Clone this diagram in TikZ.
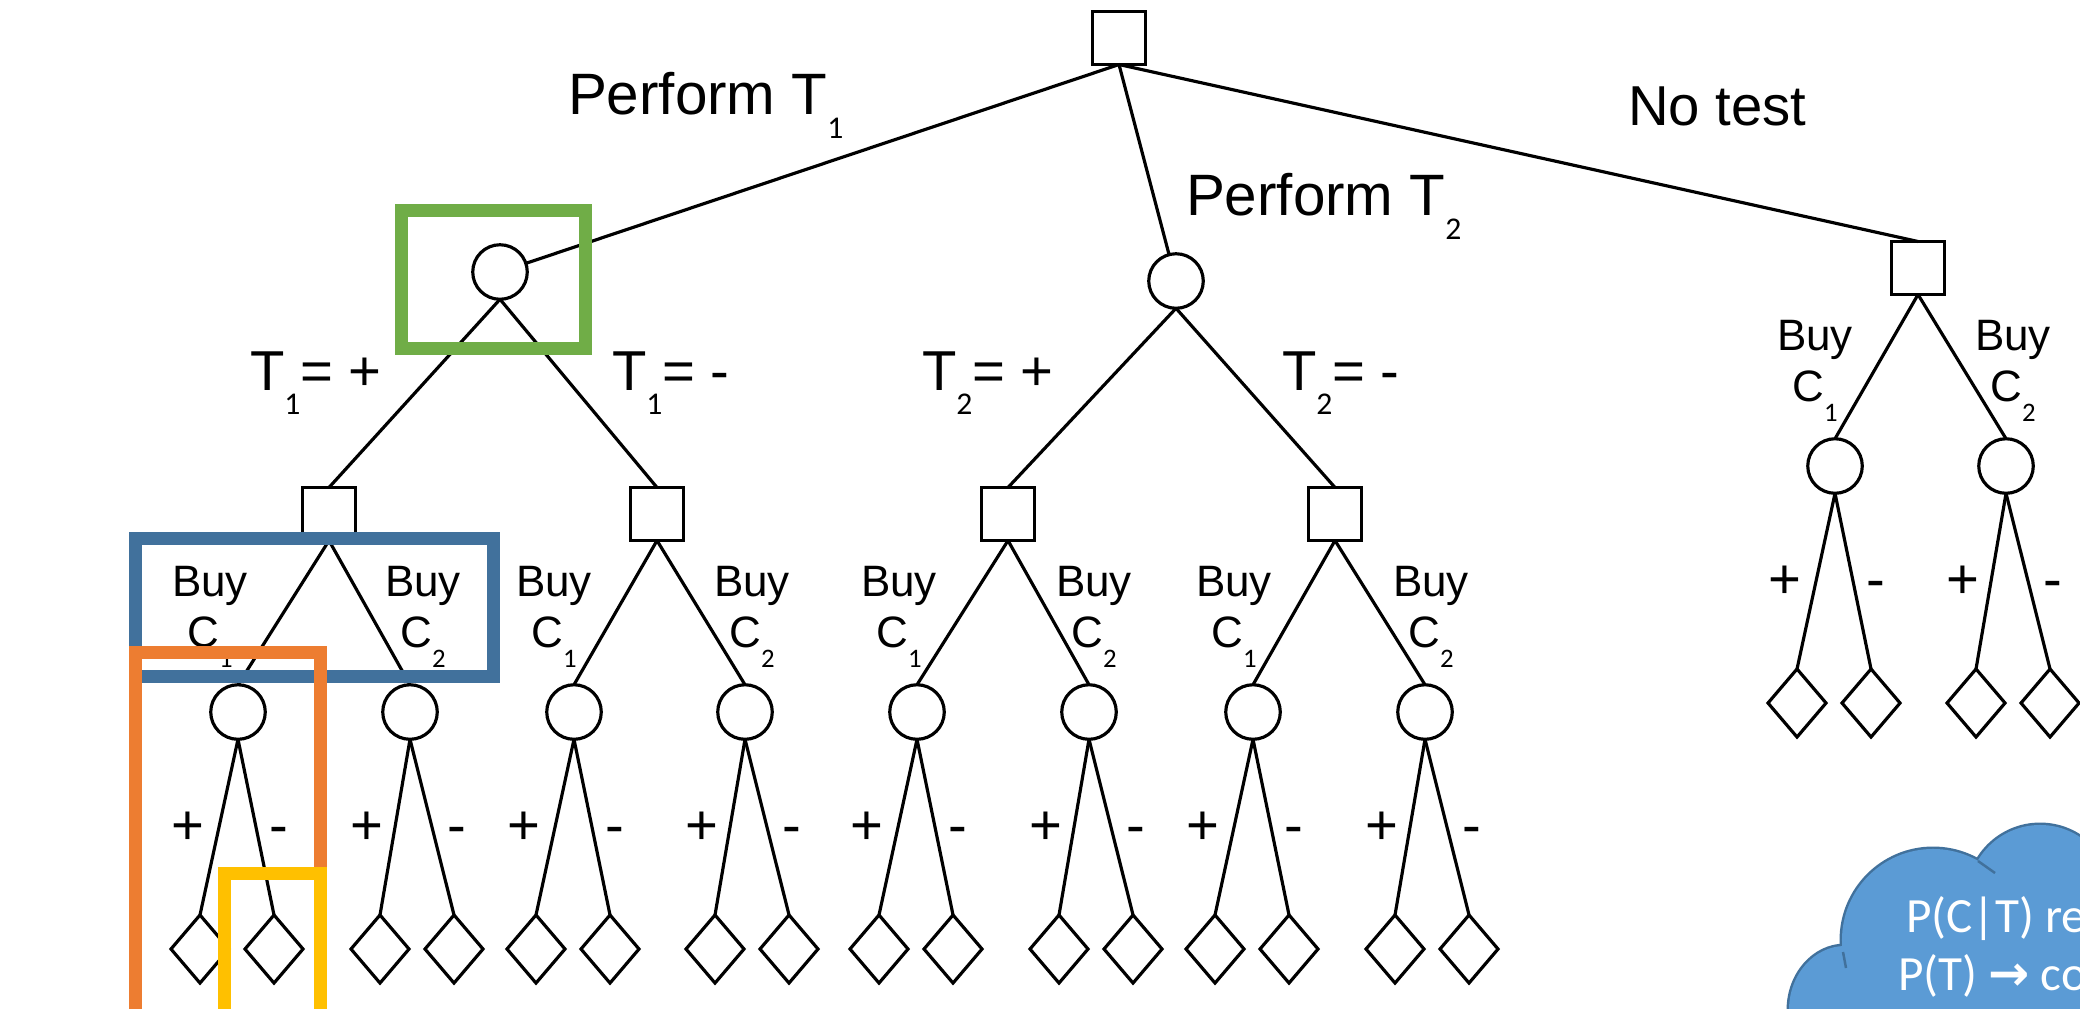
\documentclass[tikz,border=0pt]{standalone}
\usepackage{fontspec}
\setmainfont{Liberation Sans}
\newfontfamily\subfont{Carlito}
\newfontfamily\cloudfont{Carlito}
\newfontfamily\arrowfont{DejaVu Sans}
\usetikzlibrary{shapes.geometric}

\definecolor{hlgreen}{HTML}{70AD47}
\definecolor{hlblue}{HTML}{41719C}
\definecolor{hlorange}{HTML}{ED7D31}
\definecolor{hlyellow}{HTML}{FFC000}
\definecolor{cloudfill}{HTML}{5B9BD5}
\definecolor{cloudedge}{HTML}{41719C}

% lowered index digits
\newcommand{\bigsub}[1]{\raisebox{-7pt}{\subfont\fontsize{9}{9}\selectfont #1}}
\newcommand{\smallsub}[1]{\raisebox{-5.7pt}{\subfont\fontsize{7.6}{7.6}\selectfont #1}}

\begin{document}
\begin{tikzpicture}[x=0.01cm, y=-0.01cm,
  every node/.style={inner sep=0pt, outer sep=0pt},
  dec/.style={draw, rectangle, minimum size=0.53cm, line width=0.9pt},
  chance/.style={draw, circle, minimum size=0.545cm, line width=0.9pt},
  leaf/.style={draw, diamond, minimum width=0.58cm, minimum height=0.68cm, line width=0.9pt},
  branch/.style={line width=0.9pt},
  biglabel/.style={anchor=base west, font=\fontsize{16}{19}\selectfont},
  testlabel/.style={anchor=base west, font=\fontsize{16.6}{19}\selectfont},
  buylabel/.style={anchor=base, font=\fontsize{12.5}{15}\selectfont},
  sign/.style={anchor=base, font=\fontsize{16}{19}\selectfont},
  hl/.style={line width=0.13cm},
  puff/.style={line width=1.4pt, draw=cloudedge},
  cloudtext/.style={anchor=base west, text=white, font=\cloudfont\fontsize{14}{17}\selectfont},
]
\useasboundingbox (0,0) rectangle (2080,1008);
\fill[white] (0,0) rectangle (2080,1008);

% root decision and first chance nodes
\node[dec] (root) at (1119,38) {};
\node[chance] (t1) at (500,272) {};
\node[chance] (t2) at (1176,281) {};
\draw[branch] (root.south) -- (t1);
\draw[branch] (root.south) -- (t2);

% purchase decisions with their outcome chance nodes and leaves
\foreach \n/\sx/\sy/\ca/\cb/\la/\lb in {p/329/514/238/410/210/423, q/657/514/574/745/554/752,
    r/1008/514/917/1089/899/1094, s/1335/514/1253/1425/1234/1431, z/1918/268/1835/2006/1815/2013} {
  \node[dec] (sq\n) at (\sx,\sy) {};
  \node[chance] (ca\n) at (\ca,\sy+198) {};
  \node[chance] (cb\n) at (\cb,\sy+198) {};
  \draw[branch] (sq\n.south) -- (ca\n.north);
  \draw[branch] (sq\n.south) -- (cb\n.north);
  \node[buylabel] at (\la,\sy+82) {Buy};
  \node[buylabel] at (\la,\sy+133) {C\smallsub{1}};
  \node[buylabel] at (\lb,\sy+82) {Buy};
  \node[buylabel] at (\lb,\sy+133) {C\smallsub{2}};
  \node[leaf] (da\n) at (\ca-38,\sy+435) {};
  \node[leaf] (db\n) at (\ca+36,\sy+435) {};
  \node[leaf] (dc\n) at (\cb-30,\sy+435) {};
  \node[leaf] (dd\n) at (\cb+44,\sy+435) {};
  \draw[branch] (ca\n.south) -- (da\n.north);
  \draw[branch] (ca\n.south) -- (db\n.north);
  \draw[branch] (cb\n.south) -- (dc\n.north);
  \draw[branch] (cb\n.south) -- (dd\n.north);
  \node[sign] at (\ca-50,\sy+330) {+};
  \node[sign] at (\ca+41,\sy+330) {-};
  \node[sign] at (\cb-43,\sy+330) {+};
  \node[sign] at (\cb+47,\sy+330) {-};
}

\draw[branch] (root.south) -- (sqz.north);
\draw[branch] (t1.south) -- (sqp.north);
\draw[branch] (t1.south) -- (sqq.north);
\draw[branch] (t2.south) -- (sqr.north);
\draw[branch] (t2.south) -- (sqs.north);

% branch labels
\node[testlabel] at (568,114) {Perform T\bigsub{1}};
\node[testlabel] at (1186,215) {Perform T\bigsub{2}};
\node[biglabel] at (1628,125) {No test};
\node[biglabel] at (250,390) {T\bigsub{1}= +};
\node[biglabel] at (612,390) {T\bigsub{1}= -};
\node[biglabel] at (922,390) {T\bigsub{2}= +};
\node[biglabel] at (1282,390) {T\bigsub{2}= -};

% cloud callout
\draw[puff] (1845,1010) ellipse [x radius=0.56cm, y radius=0.64cm];
\draw[puff] (1933,940) circle [radius=0.91cm];
\draw[puff] (2040,897) circle [radius=0.72cm];
\fill[cloudfill] (1845,1010) ellipse [x radius=0.56cm, y radius=0.64cm];
\fill[cloudfill] (1933,940) circle [radius=0.91cm];
\fill[cloudfill] (2040,897) circle [radius=0.72cm];
\fill[cloudfill] (1850,950) rectangle (2200,1100);
\draw[cloudedge, line width=0.7pt] (1843,952) -- (1846,968);
\draw[cloudedge, line width=0.7pt] (1978,861) -- (1995,873);
\node[cloudtext] (cl1) at (1906,932) {P(C|T) re};
\node[cloudtext] (cl2) at (1898,990) {P(T) {\arrowfont\bfseries →} co};

% highlight frames
\draw[hl, hlgreen] (401.5,210.5) rectangle (585.5,348.5);
\draw[hl, hlblue] (135.5,538.5) rectangle (493.5,676.5);
\draw[hl, hlorange] (135.5,652.5) rectangle (320.5,1030);
\draw[hl, hlyellow] (224.5,873.5) rectangle (320.5,1030);
\end{tikzpicture}
\end{document}
